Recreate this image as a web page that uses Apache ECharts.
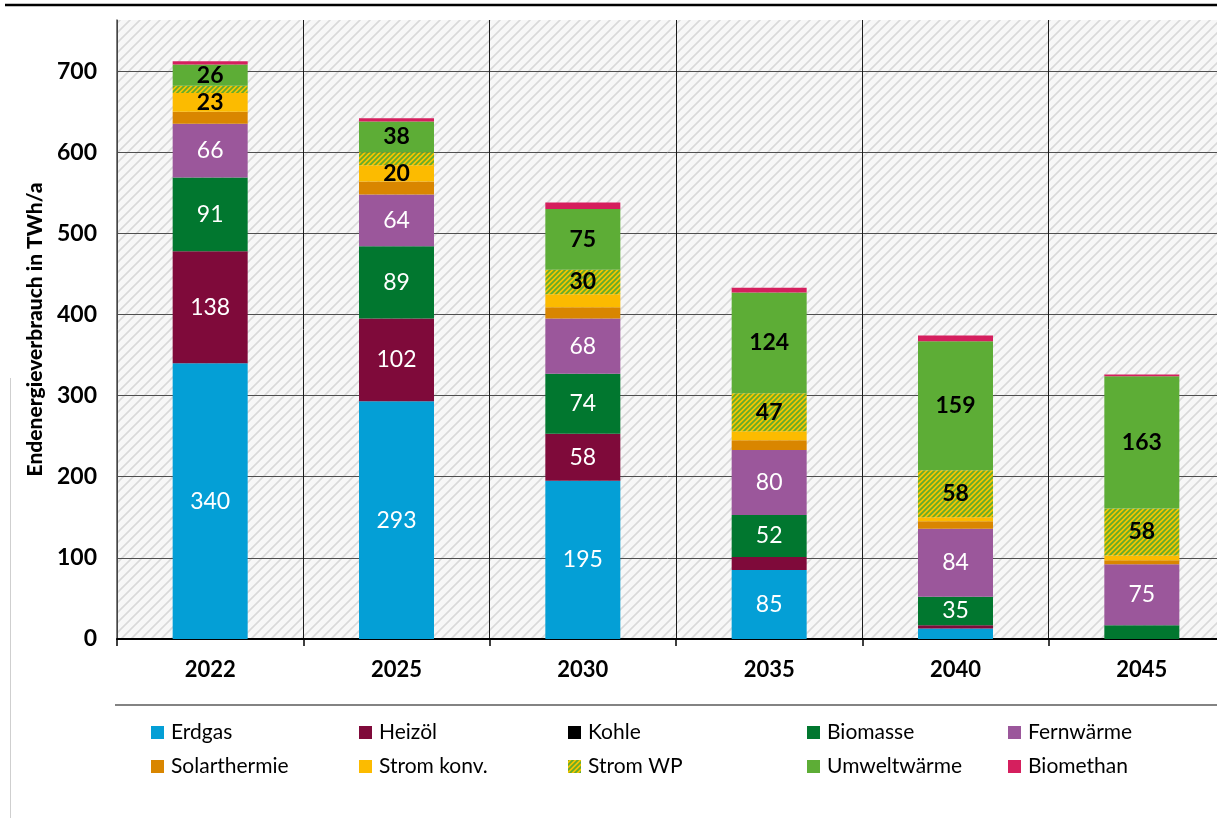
<!DOCTYPE html>
<html>
<head>
<meta charset="utf-8">
<script src="https://cdn.jsdelivr.net/npm/echarts@6/dist/echarts.min.js"></script>
<style>
html,body{margin:0;padding:0;background:#fff;}
#chart{width:1217px;height:818px;}
</style>
</head>
<body>
<div id="chart"></div>
<script>
// ---- data ----
var years = ['2022', '2025', '2030', '2035', '2040', '2045'];
var erdgas      = [340, 293, 195, 85, 13, 0];
var heizoel     = [138, 102, 58, 16, 4, 0];
var kohle       = [0, 0, 0, 0, 0, 0];
var biomasse    = [91, 89, 74, 52, 35, 17];
var fernwaerme  = [66, 64, 68, 80, 84, 75];
var solar       = [15, 16, 14, 12, 9, 5];
var stromKonv   = [23, 20, 16, 11, 5, 6];
var stromWP     = [9, 16, 30, 47, 58, 58];
var umwelt      = [26, 38, 75, 124, 159, 163];
var biomethan   = [4, 4, 8, 6, 7, 2];
var yTicks = [0, 100, 200, 300, 400, 500, 600, 700];

// ---- patterns ----
function hatch(size, bg, fg, lw) {
  var c = document.createElement('canvas');
  c.width = size; c.height = size;
  var g = c.getContext('2d');
  g.fillStyle = bg; g.fillRect(0, 0, size, size);
  g.strokeStyle = fg; g.lineWidth = lw;
  g.beginPath();
  g.moveTo(-size, size); g.lineTo(size, -size);
  g.moveTo(0, size); g.lineTo(size, 0);
  g.moveTo(0, 2 * size); g.lineTo(2 * size, 0);
  g.stroke();
  return c;
}
var bgPattern = { image: hatch(10, '#f7f7f7', '#d9d9d9', 1.6), repeat: 'repeat' };
var wpPattern = { image: hatch(5, '#f7c400', '#63ab2c', 1.8), repeat: 'repeat' };

var FONT = 'Lato';
function lbl(color, weight) {
  return {
    show: true, position: 'inside', color: color, fontFamily: FONT,
    fontSize: 23, fontWeight: weight,
    formatter: function (p) { return p.value >= 20 ? String(p.value) : ''; }
  };
}
function ser(name, data, color, label) {
  return {
    name: name, type: 'bar', stack: 'total', data: data, barWidth: 75,
    itemStyle: { color: color },
    label: label || { show: false },
    emphasis: { disabled: true }
  };
}

var series = [
  ser('Erdgas', erdgas, '#049fd6', lbl('#ffffff', 'normal')),
  ser('Heizöl', heizoel, '#7f0a3a', lbl('#ffffff', 'normal')),
  ser('Kohle', kohle, '#000000'),
  ser('Biomasse', biomasse, '#01772f', lbl('#ffffff', 'normal')),
  ser('Fernwärme', fernwaerme, '#9b579b', lbl('#ffffff', 'normal')),
  ser('Solarthermie', solar, '#d98600'),
  ser('Strom konv.', stromKonv, '#fcbb00', lbl('#000000', 'bold')),
  ser('Strom WP', stromWP, wpPattern, lbl('#000000', 'bold')),
  ser('Umweltwärme', umwelt, '#5dad36', lbl('#000000', 'bold')),
  ser('Biomethan', biomethan, '#d51f5e')
];

var legendCols = [
  { left: 146, names: ['Erdgas', 'Solarthermie'] },
  { left: 354, names: ['Heizöl', 'Strom konv.'] },
  { left: 563, names: ['Kohle', 'Strom WP'] },
  { left: 802, names: ['Biomasse', 'Umweltwärme'] },
  { left: 1003, names: ['Fernwärme', 'Biomethan'] }
];
var legends = legendCols.map(function (c) {
  return {
    orient: 'vertical', left: c.left, top: 717, itemGap: 13,
    itemWidth: 13, itemHeight: 13, icon: 'rect', selectedMode: false,
    data: c.names,
    textStyle: { fontFamily: FONT, fontSize: 21, color: '#000', padding: [0, 0, 0, 2] }
  };
});

var chart = echarts.init(document.getElementById('chart'), null, { renderer: 'canvas' });
chart.setOption({
  animation: false,
  backgroundColor: '#ffffff',
  textStyle: { fontFamily: FONT },
  grid: {
    left: 117, right: -18, top: 20, bottom: 179,
    outerBoundsMode: 'none', containLabel: false,
    show: true, backgroundColor: bgPattern, borderWidth: 0
  },
  legend: legends,
  xAxis: {
    type: 'category', data: years,
    axisLine: { show: true, lineStyle: { color: '#000', width: 2 } },
    axisTick: { show: true, length: 7, lineStyle: { color: '#000', width: 1.5 } },
    axisLabel: { fontFamily: FONT, fontSize: 22, fontWeight: 'bold', color: '#000', margin: 20 },
    splitLine: { show: true, interval: 0, lineStyle: { color: '#1a1a1a', width: 1 } }
  },
  yAxis: {
    type: 'value', min: yTicks[0], max: 763, interval: 100,
    name: 'Endenergieverbrauch in TWh/a', nameLocation: 'middle', nameGap: 66,
    nameTextStyle: { fontFamily: FONT, fontSize: 21, fontWeight: 900, color: '#000' },
    axisLine: { show: true, lineStyle: { color: '#555', width: 1.5 } },
    axisTick: { show: false },
    axisLabel: {
      fontFamily: FONT, fontSize: 23, fontWeight: 'bold', color: '#000', margin: 20,
      showMaxLabel: false,
      formatter: function (v) { return yTicks.indexOf(v) >= 0 ? String(v) : ''; }
    },
    splitLine: { show: true, showMaxLine: false, lineStyle: { color: '#505050', width: 1 } }
  },
  series: series,
  graphic: [
    { type: 'line', shape: { x1: 5, y1: 5, x2: 1217, y2: 5 }, style: { stroke: '#000', lineWidth: 2.5 }, silent: true },
    { type: 'line', shape: { x1: 115, y1: 705, x2: 1217, y2: 705 }, style: { stroke: '#5a5a5a', lineWidth: 1.5 }, silent: true },
    { type: 'line', shape: { x1: 10.5, y1: 378, x2: 10.5, y2: 818 }, style: { stroke: '#cfcfcf', lineWidth: 1 }, silent: true }
  ]
});
</script>
</body>
</html>
